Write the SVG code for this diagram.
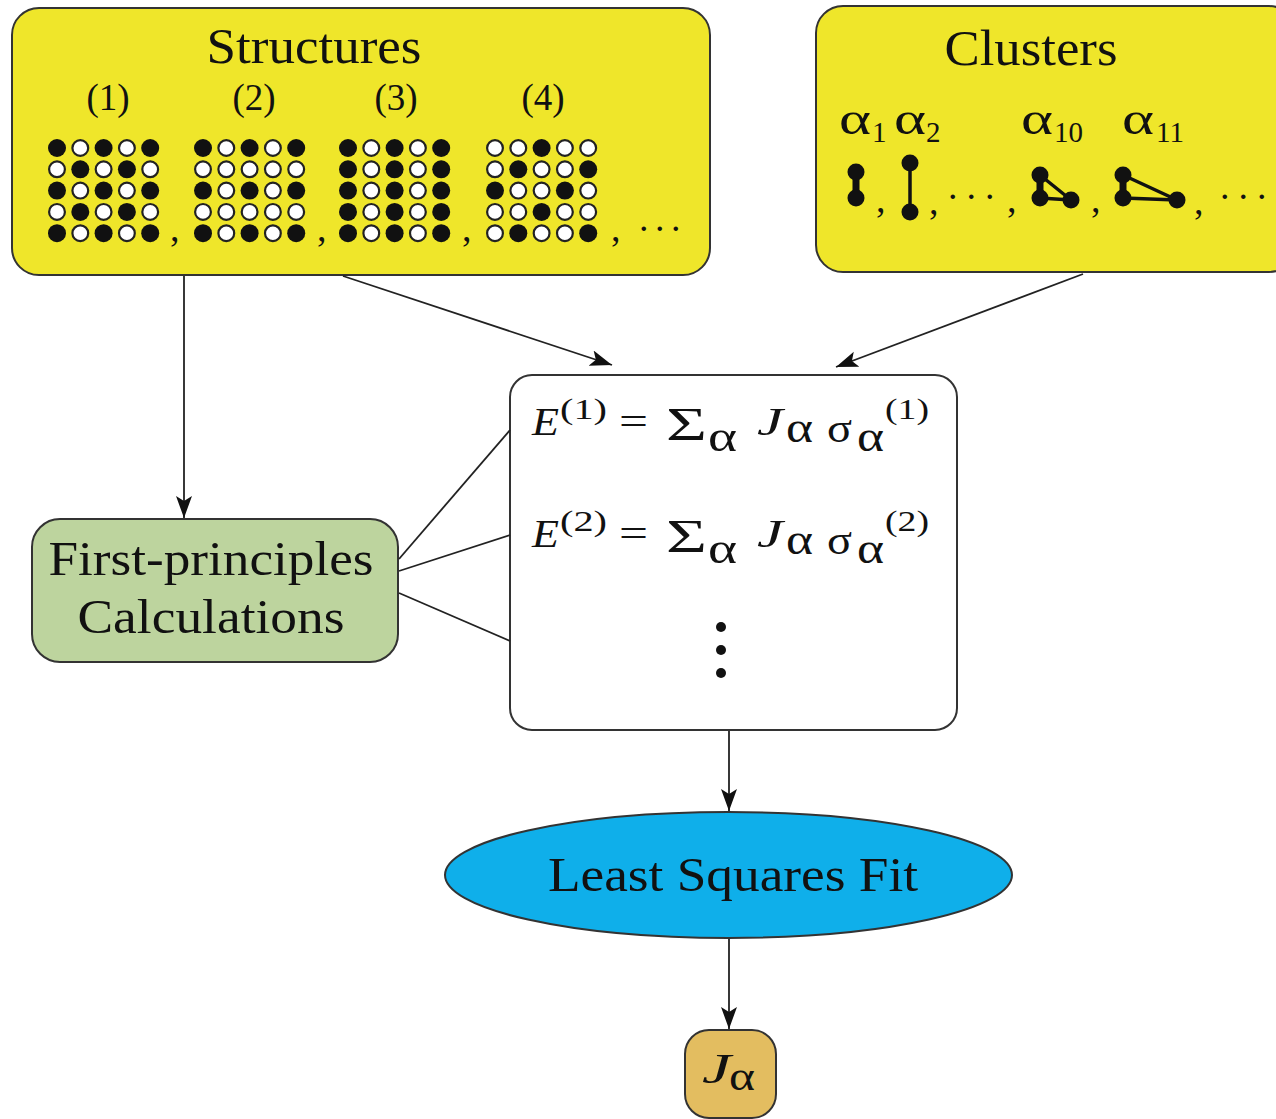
<svg xmlns="http://www.w3.org/2000/svg" width="1276" height="1119" viewBox="0 0 1276 1119">
<style>
.box{stroke:#333;stroke-width:2}
.yel{fill:#efe62a}
.t{font-family:"Liberation Serif",serif;fill:#111}
.i{font-style:italic}
.b{fill:#111}
.w{fill:#fff;stroke:#222;stroke-width:2.2}
.ln{stroke:#222;stroke-width:1.8;fill:none}
.cl{stroke:#111;fill:none}
</style>
<defs>
<marker id="ah" markerUnits="userSpaceOnUse" markerWidth="24" markerHeight="18" refX="22" refY="8" orient="auto">
<path d="M0,0 L22,8 L0,16 L5,8 Z" fill="#111"/>
</marker>
<circle id="B" r="9" class="b"/>
<circle id="W" r="7.9" class="w"/>
</defs>

<g id="structures">
<rect class="box yel" x="12" y="8" width="698" height="267" rx="27"/>
<text class="t" x="314" y="63" font-size="50" text-anchor="middle" textLength="215" lengthAdjust="spacingAndGlyphs">Structures</text>
<g class="t" font-size="37" text-anchor="middle">
<text x="108" y="110">(1)</text>
<text x="254" y="110">(2)</text>
<text x="396" y="110">(3)</text>
<text x="543" y="110">(4)</text>
</g>
<!-- grid 1 -->
<g transform="translate(57,148)">
<use href="#B" x="0" y="0"/><use href="#W" x="23.3" y="0"/><use href="#B" x="46.6" y="0"/><use href="#W" x="69.9" y="0"/><use href="#B" x="93.2" y="0"/>
<use href="#W" x="0" y="21.3"/><use href="#B" x="23.3" y="21.3"/><use href="#W" x="46.6" y="21.3"/><use href="#B" x="69.9" y="21.3"/><use href="#W" x="93.2" y="21.3"/>
<use href="#B" x="0" y="42.6"/><use href="#W" x="23.3" y="42.6"/><use href="#B" x="46.6" y="42.6"/><use href="#W" x="69.9" y="42.6"/><use href="#B" x="93.2" y="42.6"/>
<use href="#W" x="0" y="63.9"/><use href="#B" x="23.3" y="63.9"/><use href="#W" x="46.6" y="63.9"/><use href="#B" x="69.9" y="63.9"/><use href="#W" x="93.2" y="63.9"/>
<use href="#B" x="0" y="85.2"/><use href="#W" x="23.3" y="85.2"/><use href="#B" x="46.6" y="85.2"/><use href="#W" x="69.9" y="85.2"/><use href="#B" x="93.2" y="85.2"/>
</g>
<!-- grid 2 -->
<g transform="translate(203,148)">
<use href="#B" x="0" y="0"/><use href="#W" x="23.3" y="0"/><use href="#B" x="46.6" y="0"/><use href="#W" x="69.9" y="0"/><use href="#B" x="93.2" y="0"/>
<use href="#W" x="0" y="21.3"/><use href="#W" x="23.3" y="21.3"/><use href="#W" x="46.6" y="21.3"/><use href="#W" x="69.9" y="21.3"/><use href="#W" x="93.2" y="21.3"/>
<use href="#B" x="0" y="42.6"/><use href="#W" x="23.3" y="42.6"/><use href="#B" x="46.6" y="42.6"/><use href="#W" x="69.9" y="42.6"/><use href="#B" x="93.2" y="42.6"/>
<use href="#W" x="0" y="63.9"/><use href="#W" x="23.3" y="63.9"/><use href="#W" x="46.6" y="63.9"/><use href="#W" x="69.9" y="63.9"/><use href="#W" x="93.2" y="63.9"/>
<use href="#B" x="0" y="85.2"/><use href="#W" x="23.3" y="85.2"/><use href="#B" x="46.6" y="85.2"/><use href="#W" x="69.9" y="85.2"/><use href="#B" x="93.2" y="85.2"/>
</g>
<!-- grid 3 -->
<g transform="translate(348,148)">
<use href="#B" x="0" y="0"/><use href="#W" x="23.3" y="0"/><use href="#B" x="46.6" y="0"/><use href="#W" x="69.9" y="0"/><use href="#B" x="93.2" y="0"/>
<use href="#B" x="0" y="21.3"/><use href="#W" x="23.3" y="21.3"/><use href="#B" x="46.6" y="21.3"/><use href="#W" x="69.9" y="21.3"/><use href="#B" x="93.2" y="21.3"/>
<use href="#B" x="0" y="42.6"/><use href="#W" x="23.3" y="42.6"/><use href="#B" x="46.6" y="42.6"/><use href="#W" x="69.9" y="42.6"/><use href="#B" x="93.2" y="42.6"/>
<use href="#B" x="0" y="63.9"/><use href="#W" x="23.3" y="63.9"/><use href="#B" x="46.6" y="63.9"/><use href="#W" x="69.9" y="63.9"/><use href="#B" x="93.2" y="63.9"/>
<use href="#B" x="0" y="85.2"/><use href="#W" x="23.3" y="85.2"/><use href="#B" x="46.6" y="85.2"/><use href="#W" x="69.9" y="85.2"/><use href="#B" x="93.2" y="85.2"/>
</g>
<!-- grid 4 -->
<g transform="translate(495,148)">
<use href="#W" x="0" y="0"/><use href="#W" x="23.3" y="0"/><use href="#B" x="46.6" y="0"/><use href="#W" x="69.9" y="0"/><use href="#W" x="93.2" y="0"/>
<use href="#W" x="0" y="21.3"/><use href="#B" x="23.3" y="21.3"/><use href="#W" x="46.6" y="21.3"/><use href="#W" x="69.9" y="21.3"/><use href="#B" x="93.2" y="21.3"/>
<use href="#B" x="0" y="42.6"/><use href="#W" x="23.3" y="42.6"/><use href="#W" x="46.6" y="42.6"/><use href="#B" x="69.9" y="42.6"/><use href="#W" x="93.2" y="42.6"/>
<use href="#W" x="0" y="63.9"/><use href="#W" x="23.3" y="63.9"/><use href="#B" x="46.6" y="63.9"/><use href="#W" x="69.9" y="63.9"/><use href="#W" x="93.2" y="63.9"/>
<use href="#W" x="0" y="85.2"/><use href="#B" x="23.3" y="85.2"/><use href="#W" x="46.6" y="85.2"/><use href="#W" x="69.9" y="85.2"/><use href="#B" x="93.2" y="85.2"/>
</g>
<g class="t" font-size="38">
<text x="170" y="241">,</text>
<text x="317" y="241">,</text>
<text x="462" y="241">,</text>
<text x="611" y="241">,</text>
<text x="639" y="231" letter-spacing="6.5">...</text>
</g>
</g>

<g id="clusters">
<rect class="box yel" x="816" y="6" width="480" height="266" rx="27"/>
<text class="t" x="1031" y="65" font-size="50" text-anchor="middle" textLength="173" lengthAdjust="spacingAndGlyphs">Clusters</text>
<g class="t" font-size="46">
<text x="839" y="134" textLength="32" lengthAdjust="spacingAndGlyphs">α</text><text x="872" y="142" font-size="29">1</text>
<text x="894" y="134" textLength="32" lengthAdjust="spacingAndGlyphs">α</text><text x="926" y="142" font-size="29">2</text>
<text x="1021" y="134" textLength="32" lengthAdjust="spacingAndGlyphs">α</text><text x="1054" y="142" font-size="29">10</text>
<text x="1122" y="134" textLength="32" lengthAdjust="spacingAndGlyphs">α</text><text x="1156" y="142" font-size="29">11</text>
</g>
<!-- alpha1 -->
<line class="cl" x1="856" y1="172" x2="856" y2="198" stroke-width="7"/>
<circle cx="856" cy="172" r="8.5" class="b"/><circle cx="856" cy="198" r="8.5" class="b"/>
<!-- alpha2 -->
<line class="cl" x1="910" y1="163" x2="910" y2="212" stroke-width="3.5"/>
<circle cx="910" cy="163" r="8.5" class="b"/><circle cx="910" cy="212" r="8.5" class="b"/>
<!-- alpha10 -->
<path class="cl" d="M1040,175 L1040,198 L1071,200 Z" stroke-width="3.5" stroke-linejoin="round"/>
<line class="cl" x1="1040" y1="175" x2="1040" y2="198" stroke-width="7"/>
<circle cx="1040" cy="175" r="8.5" class="b"/><circle cx="1040" cy="198" r="8.5" class="b"/><circle cx="1071" cy="200" r="8.5" class="b"/>
<!-- alpha11 -->
<path class="cl" d="M1123,175 L1123,198 L1177,200 Z" stroke-width="3.5" stroke-linejoin="round"/>
<line class="cl" x1="1123" y1="175" x2="1123" y2="198" stroke-width="7"/>
<circle cx="1123" cy="175" r="8.5" class="b"/><circle cx="1123" cy="198" r="8.5" class="b"/><circle cx="1177" cy="200" r="8.5" class="b"/>
<g class="t" font-size="38">
<text x="876" y="212">,</text>
<text x="929" y="214">,</text>
<text x="948" y="199" letter-spacing="9">...</text>
<text x="1007" y="212">,</text>
<text x="1091" y="212">,</text>
<text x="1194" y="214">,</text>
<text x="1220" y="199" letter-spacing="9">...</text>
</g>
</g>

<g id="formulas">
<rect class="box" fill="#fff" x="510" y="375" width="447" height="355" rx="22"/>
<g class="t" font-size="40">
<text x="532" y="435" class="i" textLength="27" lengthAdjust="spacingAndGlyphs">E</text>
<text x="560" y="419" font-size="30" textLength="47" lengthAdjust="spacingAndGlyphs">(1)</text>
<text x="619" y="435" textLength="29" lengthAdjust="spacingAndGlyphs">=</text>
<text x="666" y="440" font-size="46" textLength="41" lengthAdjust="spacingAndGlyphs">Σ</text>
<text x="708" y="451" font-size="44" textLength="29" lengthAdjust="spacingAndGlyphs">α</text>
<text x="757" y="435" class="i" textLength="26" lengthAdjust="spacingAndGlyphs">J</text>
<text x="786" y="442" font-size="44" textLength="27" lengthAdjust="spacingAndGlyphs">α</text>
<text x="827" y="442" font-size="42" textLength="25" lengthAdjust="spacingAndGlyphs">σ</text>
<text x="857" y="451" font-size="44" textLength="27" lengthAdjust="spacingAndGlyphs">α</text>
<text x="885" y="419" font-size="30" textLength="44" lengthAdjust="spacingAndGlyphs">(1)</text>
</g>
<g class="t" font-size="40" transform="translate(0,112)">
<text x="532" y="435" class="i" textLength="27" lengthAdjust="spacingAndGlyphs">E</text>
<text x="560" y="419" font-size="30" textLength="47" lengthAdjust="spacingAndGlyphs">(2)</text>
<text x="619" y="435" textLength="29" lengthAdjust="spacingAndGlyphs">=</text>
<text x="666" y="440" font-size="46" textLength="41" lengthAdjust="spacingAndGlyphs">Σ</text>
<text x="708" y="451" font-size="44" textLength="29" lengthAdjust="spacingAndGlyphs">α</text>
<text x="757" y="435" class="i" textLength="26" lengthAdjust="spacingAndGlyphs">J</text>
<text x="786" y="442" font-size="44" textLength="27" lengthAdjust="spacingAndGlyphs">α</text>
<text x="827" y="442" font-size="42" textLength="25" lengthAdjust="spacingAndGlyphs">σ</text>
<text x="857" y="451" font-size="44" textLength="27" lengthAdjust="spacingAndGlyphs">α</text>
<text x="885" y="419" font-size="30" textLength="44" lengthAdjust="spacingAndGlyphs">(2)</text>
</g>
<circle cx="721" cy="627" r="5" class="b"/>
<circle cx="721" cy="650" r="5" class="b"/>
<circle cx="721" cy="673" r="5" class="b"/>
</g>

<g id="first-principles">
<rect class="box" fill="#bdd49e" x="32" y="519" width="366" height="143" rx="28"/>
<text class="t" x="211" y="575" font-size="48" text-anchor="middle" textLength="325" lengthAdjust="spacingAndGlyphs">First-principles</text>
<text class="t" x="211" y="633" font-size="48" text-anchor="middle" textLength="267" lengthAdjust="spacingAndGlyphs">Calculations</text>
</g>

<g id="least-squares">
<ellipse class="box" fill="#0fafea" cx="728.5" cy="875" rx="283.5" ry="63"/>
<text class="t" x="733" y="891" font-size="48" text-anchor="middle" textLength="370" lengthAdjust="spacingAndGlyphs">Least Squares Fit</text>
</g>

<g id="j-alpha">
<rect class="box" fill="#e3bd60" x="685" y="1030" width="91" height="88" rx="24"/>
<text class="t i" x="702" y="1083" font-size="42" textLength="29" lengthAdjust="spacingAndGlyphs">J</text>
<text class="t" x="729" y="1090" font-size="42" textLength="26" lengthAdjust="spacingAndGlyphs">α</text>
</g>

<g id="connectors">
<line class="ln" x1="184" y1="276" x2="184" y2="518" marker-end="url(#ah)"/>
<line class="ln" x1="343" y1="276" x2="612" y2="365" marker-end="url(#ah)"/>
<line class="ln" x1="1083" y1="274" x2="836" y2="367" marker-end="url(#ah)"/>
<line class="ln" x1="729" y1="731" x2="729" y2="811" marker-end="url(#ah)"/>
<line class="ln" x1="729" y1="939" x2="729" y2="1029" marker-end="url(#ah)"/>
<line class="ln" x1="399" y1="559" x2="510" y2="430"/>
<line class="ln" x1="399" y1="571" x2="510" y2="535"/>
<line class="ln" x1="399" y1="593" x2="510" y2="641"/>
</g>
</svg>
